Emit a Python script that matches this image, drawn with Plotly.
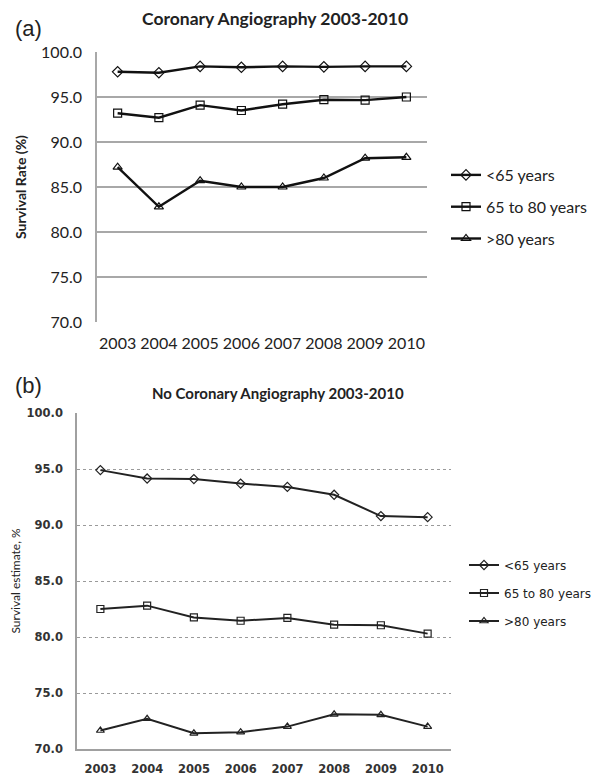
import plotly.graph_objects as go

years = ["2003", "2004", "2005", "2006", "2007", "2008", "2009", "2010"]
series_names = ["<65 years", "65 to 80 years", ">80 years"]

# Panel (a): Coronary Angiography
a_lt65 = [97.8, 97.7, 98.4, 98.3, 98.4, 98.35, 98.4, 98.4]
a_65_80 = [93.2, 92.7, 94.1, 93.5, 94.2, 94.7, 94.65, 95.0]
a_gt80 = [87.2, 82.8, 85.7, 85.0, 85.0, 86.0, 88.2, 88.3]

# Panel (b): No Coronary Angiography
b_lt65 = [94.9, 94.15, 94.1, 93.7, 93.4, 92.7, 90.8, 90.7]
b_65_80 = [82.5, 82.8, 81.75, 81.45, 81.7, 81.1, 81.05, 80.3]
b_gt80 = [71.65, 72.7, 71.4, 71.5, 72.0, 73.1, 73.05, 72.0]

symbols = ["diamond-open", "square-open", "triangle-up-open"]

fig = go.Figure()

for i, (name, vals) in enumerate(zip(series_names, [a_lt65, a_65_80, a_gt80])):
    fig.add_trace(go.Scatter(
        x=years, y=vals, name=name, mode="lines+markers",
        line=dict(color="#111111", width=2.4),
        marker=dict(symbol=symbols[i], size=8, color="#111111", line=dict(width=1.2, color="#111111")),
        xaxis="x", yaxis="y", legend="legend", legendgroup="a%d" % i,
    ))

for i, (name, vals) in enumerate(zip(series_names, [b_lt65, b_65_80, b_gt80])):
    fig.add_trace(go.Scatter(
        x=years, y=vals, name=name, mode="lines+markers",
        line=dict(color="#222222", width=2),
        marker=dict(symbol=symbols[i], size=7, color="#222222", line=dict(width=1.2, color="#222222")),
        xaxis="x2", yaxis="y2", legend="legend2", legendgroup="b%d" % i,
    ))

# page body adds an 8px offset; figure sized to fit the 603x775 window
OFF = 8
W, H = 603 - OFF, 775 - OFF

def fx(p):
    return (p - OFF) / W

def fy(p):
    return 1 - (p - OFF) / H

LATO = "Lato, Open Sans, sans-serif"
DEJAVU = "DejaVu Sans, Verdana, sans-serif"
ARIAL = "Liberation Sans, Arial, sans-serif"

fig.update_layout(
    width=W, height=H,
    margin=dict(l=0, r=0, t=0, b=0, autoexpand=False),
    paper_bgcolor="white", plot_bgcolor="white",
    showlegend=True,
    xaxis=dict(
        domain=[fx(97), fx(427)], anchor="y", automargin=False,
        type="category", range=[-0.5, 7.5],
        showgrid=False, showline=False, zeroline=False, ticks="",
        tickfont=dict(family=LATO, size=16, color="#222222"),
        ticklabelstandoff=10,
    ),
    yaxis=dict(
        domain=[fy(322), fy(52)], anchor="x", automargin=False,
        range=[70, 100], dtick=5, tick0=70, tickformat=".1f",
        showgrid=True, gridcolor="#a8a8a8", gridwidth=1.6,
        showline=True, linecolor="#a8a8a8", linewidth=1.6,
        zeroline=False, ticks="",
        tickfont=dict(family=LATO, size=16, color="#222222"),
        ticklabelstandoff=10,
        title=dict(text="<b>Survival Rate (%)</b>", font=dict(family=LATO, size=14, color="#222222"), standoff=11),
    ),
    xaxis2=dict(
        domain=[fx(77), fx(451)], anchor="y2", automargin=False,
        type="category", range=[-0.5, 7.5],
        showgrid=False, showline=True, linecolor="#a0a0a0", linewidth=1.5,
        zeroline=False, ticks="",
        tickfont=dict(family=DEJAVU, size=11.5, color="#333333", weight="bold"),
        ticklabelstandoff=8,
    ),
    yaxis2=dict(
        domain=[fy(749), fy(413)], anchor="x2", automargin=False,
        range=[70, 100], dtick=5, tick0=70, tickformat=".1f",
        showgrid=True, gridcolor="#9a9a9a", gridwidth=1, griddash="dot",
        showline=True, linecolor="#a0a0a0", linewidth=1.5,
        zeroline=False, ticks="",
        tickfont=dict(family=DEJAVU, size=11.5, color="#333333", weight="bold"),
        ticklabelstandoff=10,
        title=dict(text="Survival estimate, %", font=dict(family=LATO, size=12, color="#222222"), standoff=7),
    ),
    legend=dict(
        x=fx(446), y=fy(207), xanchor="left", yanchor="middle",
        font=dict(family=LATO, size=16, color="#222222"),
        tracegroupgap=8, itemwidth=30, bgcolor="rgba(0,0,0,0)",
    ),
    legend2=dict(
        x=fx(464), y=fy(593), xanchor="left", yanchor="middle",
        font=dict(family=DEJAVU, size=12, color="#222222"),
        tracegroupgap=9, itemwidth=30, bgcolor="rgba(0,0,0,0)",
    ),
    annotations=[
        dict(text="<b>Coronary Angiography 2003-2010</b>", x=fx(274.5), y=fy(18), xref="paper", yref="paper",
             xanchor="center", yanchor="middle",
             showarrow=False, font=dict(family=LATO, size=17.5, color="#222222")),
        dict(text="(a)", x=fx(13), y=fy(29), xref="paper", yref="paper", xanchor="left", yanchor="middle",
             showarrow=False, font=dict(family=ARIAL, size=22, color="#222222")),
        dict(text="<b>No Coronary Angiography 2003-2010</b>", x=fx(278), y=fy(393), xref="paper", yref="paper",
             xanchor="center", yanchor="middle",
             showarrow=False, font=dict(family=LATO, size=15, color="#222222")),
        dict(text="(b)", x=fx(13), y=fy(385), xref="paper", yref="paper", xanchor="left", yanchor="middle",
             showarrow=False, font=dict(family=ARIAL, size=22, color="#222222")),
    ],
)

fig.write_html("out.html")
